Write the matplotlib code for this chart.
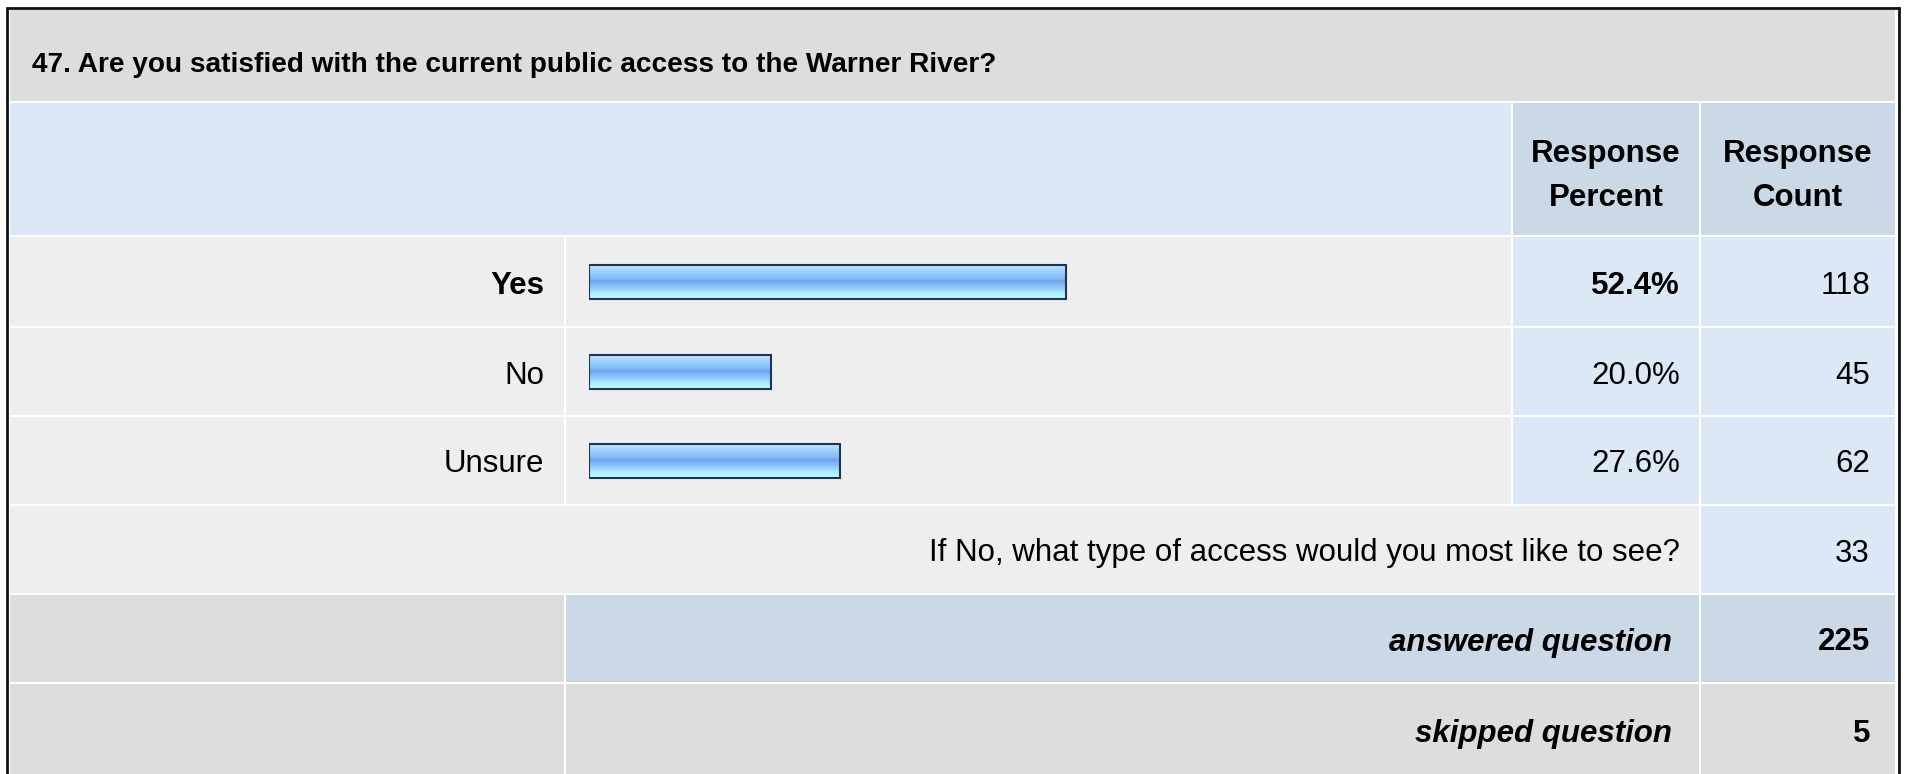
import numpy as np
import matplotlib.pyplot as plt
from matplotlib.patches import Rectangle
from matplotlib.colors import LinearSegmentedColormap

plt.rcParams['font.family'] = ['Liberation Sans', 'DejaVu Sans']

# survey data
question = "47. Are you satisfied with the current public access to the Warner River?"
choices = ["Yes", "No", "Unsure"]
percents = [52.4, 20.0, 27.6]
counts = [118, 45, 62]
other_text = "If No, what type of access would you most like to see?"
other_count = 33
answered = 225
skipped = 5

W, H = 1907, 774

# layout in pixels (top, bottom) per row, (left, right) per column
ROW_TITLE = (10, 101)
ROW_HEAD = (103, 235)
ROW_CHOICES = [(237, 326), (328, 415), (417, 504)]
ROW_OTHER = (506, 593)
ROW_ANS = (595, 682)
ROW_SKIP = (684, 776)
COL_LABEL = (10, 564)
COL_BAR = (566, 1511)
COL_PCT = (1513, 1699)
COL_CNT = (1701, 1895)
BAR_LEFT, BAR_FULL = 589, 910   # x of bar origin, px for 100%
BAR_H = 34

GRAY = '#dddddd'
LIGHT = '#eeeeee'
BLUE = '#dce8f5'
BLUE2 = '#cbd8e6'
FS = 22.5

fig = plt.figure(figsize=(W / 100, H / 100), dpi=100)
fig.patch.set_facecolor('white')
ax = fig.add_axes([0, 0, 1, 1])
ax.set_xlim(0, W)
ax.set_ylim(H, 0)
ax.axis('off')


def cell(cols, rows, color):
    ax.add_patch(Rectangle((cols[0], rows[0]), cols[1] - cols[0], rows[1] - rows[0],
                           facecolor=color, edgecolor='none', zorder=1))


def mid(r):
    return (r[0] + r[1]) / 2


# title row
cell((COL_LABEL[0], COL_CNT[1]), ROW_TITLE, GRAY)
ax.text(32, 72, question, fontsize=20.2, fontweight='bold',
        ha='left', va='baseline', zorder=3)

# header row
cell((COL_LABEL[0], COL_BAR[1]), ROW_HEAD, BLUE)
cell(COL_PCT, ROW_HEAD, BLUE2)
cell(COL_CNT, ROW_HEAD, BLUE2)
for col, word in [(COL_PCT, "Percent"), (COL_CNT, "Count")]:
    ax.text(mid(col), 162, "Response", fontsize=FS, fontweight='bold',
            ha='center', va='baseline', zorder=3)
    ax.text(mid(col), 206, word, fontsize=FS, fontweight='bold',
            ha='center', va='baseline', zorder=3)

# choice rows
top = int(np.argmax(percents))
for i, (lab, p, c) in enumerate(zip(choices, percents, counts)):
    r = ROW_CHOICES[i]
    cell(COL_LABEL, r, LIGHT)
    cell(COL_BAR, r, LIGHT)
    cell(COL_PCT, r, BLUE)
    cell(COL_CNT, r, BLUE)
    w = 'bold' if i == top else 'normal'
    ax.text(544, mid(r) + 12, lab, fontsize=FS, fontweight=w, ha='right', va='baseline', zorder=3)
    ax.text(1680, mid(r) + 12, f"{p:.1f}%", fontsize=FS, fontweight=w, ha='right', va='baseline', zorder=3)
    ax.text(1870, mid(r) + 12, str(c), fontsize=FS, ha='right', va='baseline', zorder=3)

# other row
cell((COL_LABEL[0], COL_PCT[1]), ROW_OTHER, LIGHT)
cell(COL_CNT, ROW_OTHER, BLUE)
ax.text(1680, mid(ROW_OTHER) + 12, other_text, fontsize=FS, ha='right', va='baseline', zorder=3)
ax.text(1870, mid(ROW_OTHER) + 12, str(other_count), fontsize=FS, ha='right', va='baseline', zorder=3)

# summary rows
cell(COL_LABEL, ROW_ANS, GRAY)
cell((COL_BAR[0], COL_PCT[1]), ROW_ANS, BLUE2)
cell(COL_CNT, ROW_ANS, BLUE2)
cell(COL_LABEL, ROW_SKIP, GRAY)
cell((COL_BAR[0], COL_PCT[1]), ROW_SKIP, GRAY)
cell(COL_CNT, ROW_SKIP, GRAY)
for r, lab, v in [(ROW_ANS, "answered question", answered), (ROW_SKIP, "skipped question", skipped)]:
    ax.text(1672, mid(r) + 12, lab, fontsize=FS, fontweight='bold', fontstyle='italic',
            ha='right', va='baseline', zorder=3)
    ax.text(1870, mid(r) + 12, str(v), fontsize=FS, fontweight='bold', ha='right', va='baseline', zorder=3)

# outer frame
ax.plot([7, 7, 1899, 1899], [H + 5, 8, 8, H + 5], color='#111111', lw=2.0, zorder=4,
        solid_joinstyle='miter')

# bars on their own axes: x in percent
bax = fig.add_axes([BAR_LEFT / W, 0, BAR_FULL / W, 1])
bax.set_xlim(0, 100)
bax.set_ylim(H, 0)
bax.axis('off')
bax.patch.set_alpha(0)

grad = LinearSegmentedColormap.from_list('bar', [
    (0.0, '#d0ecff'), (0.12, '#b0daff'), (0.28, '#96caff'), (0.42, '#84bcf8'),
    (0.5, '#6ea6ec'), (0.6, '#80b8f6'), (0.74, '#9ad0ff'), (0.86, '#b0eeff'),
    (1.0, '#b8ffff')])
ys = [mid(r) for r in ROW_CHOICES]
bars = bax.barh(ys, percents, height=BAR_H, left=0, facecolor='none',
                edgecolor='#1c3557', linewidth=1.5, zorder=3)
g = np.linspace(0, 1, 256).reshape(-1, 1)
for b in bars:
    x0, y0 = b.get_x(), b.get_y()
    x1, y1 = x0 + b.get_width(), y0 + b.get_height()
    bax.imshow(g, cmap=grad, extent=(x0, x1, y1, y0), origin='upper',
               aspect='auto', zorder=2, interpolation='bilinear')
bax.set_xlim(0, 100)
bax.set_ylim(H, 0)

fig.savefig('out.png', dpi=100, facecolor='white')
